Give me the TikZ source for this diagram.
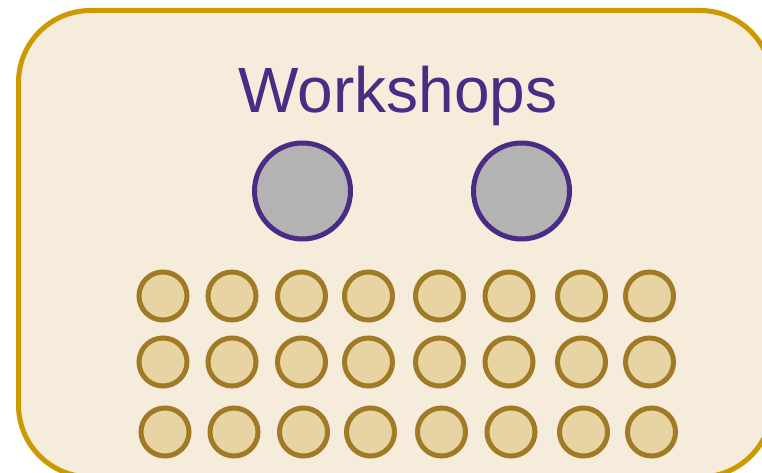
\documentclass[tikz,border=0pt]{standalone}
\usepackage{fontspec}
\usepackage{xcolor}
\newfontfamily\titlefont{Liberation Sans}
\usetikzlibrary{positioning}

\definecolor{boxfill}{HTML}{F5ECDC}
\definecolor{boxline}{HTML}{CC9900}
\definecolor{leadpurple}{HTML}{4B2C84}
\definecolor{leadgray}{HTML}{B3B3B3}
\definecolor{seatfill}{HTML}{E8D4A3}
\definecolor{seatline}{HTML}{A07A25}

\begin{document}
\begin{tikzpicture}[x=1pt, y=-1pt,
  leader/.style={circle, draw=leadpurple, fill=leadgray, line width=5pt, minimum size=96pt, inner sep=0pt},
  seat/.style={circle, draw=seatline, fill=seatfill, line width=5pt, minimum size=48pt, inner sep=0pt}]
\clip (0,0) rectangle (762,473);
\fill[white] (0,0) rectangle (762,473);
\draw[draw=boxline, fill=boxfill, line width=5pt, rounded corners=72pt] (18.5,10.5) rectangle (772,477);

\node[anchor=base, text=leadpurple, inner sep=0pt] (title) at (398,113) {\titlefont\fontsize{64pt}{64pt}\selectfont Workshops};

\node[leader] (lead1) at (302.5,191) {};
\node[leader] (lead2) at (521.5,191) {};

% three rows of seats
\foreach \r/\y/\dx in {1/296/0, 2/362/0, 3/432/2} {
  \foreach \c/\x in {1/163, 2/232, 3/301.5, 4/368.5, 5/439.5, 6/509, 7/581.5, 8/649.5} {
    \node[seat] (seat\r\c) at (\x+\dx,\y) {};
  }
}
\end{tikzpicture}
\end{document}
